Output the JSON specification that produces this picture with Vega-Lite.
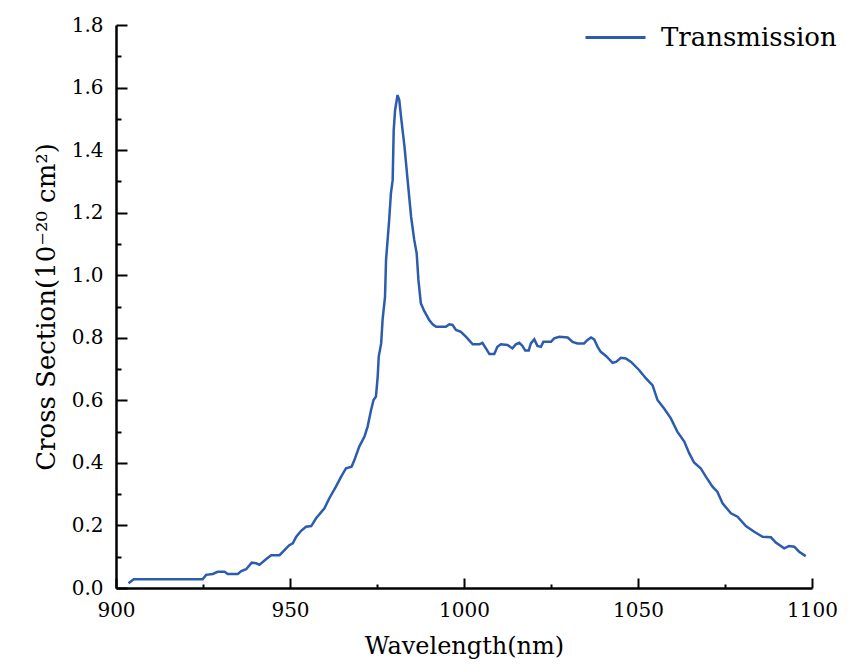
{
  "$schema": "https://vega.github.io/schema/vega-lite/v6.json",
  "width": 696,
  "height": 563,
  "autosize": {"type": "none"},
  "padding": {"left": 116, "top": 25, "right": 46, "bottom": 84},
  "background": "white",
  "config": {
    "view": {"stroke": null},
    "font": "DejaVu Serif",
    "axis": {"grid": false}
  },
  "data": {
    "values": [
      {"w": 903.6, "cs": 0.015, "series": "Transmission"},
      {"w": 905.1, "cs": 0.028, "series": "Transmission"},
      {"w": 924.9, "cs": 0.028, "series": "Transmission"},
      {"w": 925.9, "cs": 0.042, "series": "Transmission"},
      {"w": 927.8, "cs": 0.045, "series": "Transmission"},
      {"w": 929.2, "cs": 0.052, "series": "Transmission"},
      {"w": 931.2, "cs": 0.052, "series": "Transmission"},
      {"w": 932.1, "cs": 0.045, "series": "Transmission"},
      {"w": 935.0, "cs": 0.045, "series": "Transmission"},
      {"w": 936.0, "cs": 0.054, "series": "Transmission"},
      {"w": 937.4, "cs": 0.060, "series": "Transmission"},
      {"w": 939.0, "cs": 0.081, "series": "Transmission"},
      {"w": 940.3, "cs": 0.079, "series": "Transmission"},
      {"w": 941.2, "cs": 0.074, "series": "Transmission"},
      {"w": 943.1, "cs": 0.092, "series": "Transmission"},
      {"w": 944.6, "cs": 0.105, "series": "Transmission"},
      {"w": 947.0, "cs": 0.105, "series": "Transmission"},
      {"w": 949.8, "cs": 0.137, "series": "Transmission"},
      {"w": 950.8, "cs": 0.143, "series": "Transmission"},
      {"w": 951.8, "cs": 0.164, "series": "Transmission"},
      {"w": 953.2, "cs": 0.183, "series": "Transmission"},
      {"w": 954.6, "cs": 0.196, "series": "Transmission"},
      {"w": 956.1, "cs": 0.198, "series": "Transmission"},
      {"w": 957.5, "cs": 0.223, "series": "Transmission"},
      {"w": 959.9, "cs": 0.255, "series": "Transmission"},
      {"w": 961.3, "cs": 0.287, "series": "Transmission"},
      {"w": 963.2, "cs": 0.324, "series": "Transmission"},
      {"w": 964.7, "cs": 0.356, "series": "Transmission"},
      {"w": 966.1, "cs": 0.383, "series": "Transmission"},
      {"w": 967.7, "cs": 0.388, "series": "Transmission"},
      {"w": 968.5, "cs": 0.409, "series": "Transmission"},
      {"w": 969.9, "cs": 0.452, "series": "Transmission"},
      {"w": 971.4, "cs": 0.484, "series": "Transmission"},
      {"w": 972.3, "cs": 0.516, "series": "Transmission"},
      {"w": 973.3, "cs": 0.569, "series": "Transmission"},
      {"w": 974.0, "cs": 0.601, "series": "Transmission"},
      {"w": 974.7, "cs": 0.612, "series": "Transmission"},
      {"w": 975.2, "cs": 0.676, "series": "Transmission"},
      {"w": 975.5, "cs": 0.740, "series": "Transmission"},
      {"w": 976.2, "cs": 0.782, "series": "Transmission"},
      {"w": 976.6, "cs": 0.857, "series": "Transmission"},
      {"w": 977.3, "cs": 0.931, "series": "Transmission"},
      {"w": 977.6, "cs": 1.049, "series": "Transmission"},
      {"w": 978.5, "cs": 1.177, "series": "Transmission"},
      {"w": 979.0, "cs": 1.262, "series": "Transmission"},
      {"w": 979.5, "cs": 1.304, "series": "Transmission"},
      {"w": 979.8, "cs": 1.464, "series": "Transmission"},
      {"w": 980.2, "cs": 1.528, "series": "Transmission"},
      {"w": 980.9, "cs": 1.576, "series": "Transmission"},
      {"w": 981.4, "cs": 1.560, "series": "Transmission"},
      {"w": 981.9, "cs": 1.507, "series": "Transmission"},
      {"w": 982.9, "cs": 1.411, "series": "Transmission"},
      {"w": 983.8, "cs": 1.304, "series": "Transmission"},
      {"w": 984.8, "cs": 1.187, "series": "Transmission"},
      {"w": 985.7, "cs": 1.113, "series": "Transmission"},
      {"w": 986.4, "cs": 1.070, "series": "Transmission"},
      {"w": 986.9, "cs": 0.985, "series": "Transmission"},
      {"w": 987.6, "cs": 0.910, "series": "Transmission"},
      {"w": 988.6, "cs": 0.885, "series": "Transmission"},
      {"w": 990.0, "cs": 0.857, "series": "Transmission"},
      {"w": 991.0, "cs": 0.843, "series": "Transmission"},
      {"w": 992.0, "cs": 0.835, "series": "Transmission"},
      {"w": 994.8, "cs": 0.835, "series": "Transmission"},
      {"w": 995.8, "cs": 0.843, "series": "Transmission"},
      {"w": 996.7, "cs": 0.841, "series": "Transmission"},
      {"w": 997.7, "cs": 0.825, "series": "Transmission"},
      {"w": 999.1, "cs": 0.819, "series": "Transmission"},
      {"w": 1000.6, "cs": 0.803, "series": "Transmission"},
      {"w": 1002.5, "cs": 0.779, "series": "Transmission"},
      {"w": 1004.4, "cs": 0.779, "series": "Transmission"},
      {"w": 1005.3, "cs": 0.784, "series": "Transmission"},
      {"w": 1006.3, "cs": 0.766, "series": "Transmission"},
      {"w": 1007.3, "cs": 0.748, "series": "Transmission"},
      {"w": 1008.7, "cs": 0.748, "series": "Transmission"},
      {"w": 1009.6, "cs": 0.771, "series": "Transmission"},
      {"w": 1010.6, "cs": 0.779, "series": "Transmission"},
      {"w": 1012.5, "cs": 0.777, "series": "Transmission"},
      {"w": 1013.9, "cs": 0.766, "series": "Transmission"},
      {"w": 1014.9, "cs": 0.779, "series": "Transmission"},
      {"w": 1015.9, "cs": 0.784, "series": "Transmission"},
      {"w": 1016.8, "cs": 0.774, "series": "Transmission"},
      {"w": 1017.6, "cs": 0.759, "series": "Transmission"},
      {"w": 1018.6, "cs": 0.759, "series": "Transmission"},
      {"w": 1019.2, "cs": 0.782, "series": "Transmission"},
      {"w": 1020.2, "cs": 0.795, "series": "Transmission"},
      {"w": 1021.1, "cs": 0.774, "series": "Transmission"},
      {"w": 1022.1, "cs": 0.771, "series": "Transmission"},
      {"w": 1022.8, "cs": 0.787, "series": "Transmission"},
      {"w": 1025.0, "cs": 0.787, "series": "Transmission"},
      {"w": 1025.9, "cs": 0.798, "series": "Transmission"},
      {"w": 1027.4, "cs": 0.803, "series": "Transmission"},
      {"w": 1029.8, "cs": 0.801, "series": "Transmission"},
      {"w": 1031.2, "cs": 0.787, "series": "Transmission"},
      {"w": 1032.6, "cs": 0.782, "series": "Transmission"},
      {"w": 1034.5, "cs": 0.782, "series": "Transmission"},
      {"w": 1035.5, "cs": 0.793, "series": "Transmission"},
      {"w": 1036.5, "cs": 0.801, "series": "Transmission"},
      {"w": 1037.4, "cs": 0.795, "series": "Transmission"},
      {"w": 1038.4, "cs": 0.771, "series": "Transmission"},
      {"w": 1039.3, "cs": 0.755, "series": "Transmission"},
      {"w": 1040.8, "cs": 0.742, "series": "Transmission"},
      {"w": 1042.7, "cs": 0.720, "series": "Transmission"},
      {"w": 1043.7, "cs": 0.723, "series": "Transmission"},
      {"w": 1045.1, "cs": 0.736, "series": "Transmission"},
      {"w": 1046.5, "cs": 0.734, "series": "Transmission"},
      {"w": 1048.0, "cs": 0.723, "series": "Transmission"},
      {"w": 1050.3, "cs": 0.697, "series": "Transmission"},
      {"w": 1052.3, "cs": 0.670, "series": "Transmission"},
      {"w": 1054.2, "cs": 0.648, "series": "Transmission"},
      {"w": 1055.6, "cs": 0.601, "series": "Transmission"},
      {"w": 1057.5, "cs": 0.574, "series": "Transmission"},
      {"w": 1059.4, "cs": 0.543, "series": "Transmission"},
      {"w": 1061.3, "cs": 0.500, "series": "Transmission"},
      {"w": 1063.3, "cs": 0.468, "series": "Transmission"},
      {"w": 1064.7, "cs": 0.431, "series": "Transmission"},
      {"w": 1066.1, "cs": 0.401, "series": "Transmission"},
      {"w": 1068.0, "cs": 0.383, "series": "Transmission"},
      {"w": 1069.5, "cs": 0.356, "series": "Transmission"},
      {"w": 1071.4, "cs": 0.324, "series": "Transmission"},
      {"w": 1072.8, "cs": 0.308, "series": "Transmission"},
      {"w": 1074.3, "cs": 0.271, "series": "Transmission"},
      {"w": 1076.7, "cs": 0.239, "series": "Transmission"},
      {"w": 1078.6, "cs": 0.228, "series": "Transmission"},
      {"w": 1081.0, "cs": 0.198, "series": "Transmission"},
      {"w": 1083.4, "cs": 0.180, "series": "Transmission"},
      {"w": 1085.8, "cs": 0.164, "series": "Transmission"},
      {"w": 1088.2, "cs": 0.162, "series": "Transmission"},
      {"w": 1089.6, "cs": 0.145, "series": "Transmission"},
      {"w": 1092.0, "cs": 0.127, "series": "Transmission"},
      {"w": 1093.4, "cs": 0.134, "series": "Transmission"},
      {"w": 1094.9, "cs": 0.132, "series": "Transmission"},
      {"w": 1096.3, "cs": 0.116, "series": "Transmission"},
      {"w": 1098.2, "cs": 0.102, "series": "Transmission"}
    ]
  },
  "resolve": {"axis": {"x": "independent", "y": "independent"}},
  "layer": [
    {
      "mark": {"type": "line", "strokeWidth": 0, "strokeOpacity": 0},
      "encoding": {
        "x": {
          "field": "w", "type": "quantitative",
          "scale": {"domain": [900, 1100], "nice": false, "zero": false},
          "axis": {
            "orient": "bottom", "values": [925, 975, 1025, 1075],
            "labels": false, "domain": false, "title": null,
            "tickSize": -4, "tickWidth": 2, "tickColor": "black"
          }
        },
        "y": {
          "field": "cs", "type": "quantitative",
          "scale": {"domain": [0, 1.8], "nice": false},
          "axis": {
            "orient": "left", "values": [0.1, 0.3, 0.5, 0.7, 0.9, 1.1, 1.3, 1.5, 1.7],
            "labels": false, "domain": false, "title": null,
            "tickSize": -5, "tickWidth": 2, "tickColor": "black"
          }
        }
      }
    },
    {
      "mark": {"type": "line", "strokeWidth": 2.5},
      "encoding": {
        "x": {
          "field": "w", "type": "quantitative",
          "scale": {"domain": [900, 1100], "nice": false, "zero": false},
          "axis": {
            "orient": "bottom", "values": [900, 950, 1000, 1050, 1100],
            "format": "d",
            "title": "Wavelength(nm)", "titleFont": "DejaVu Serif", "titleFontSize": 24,
            "titleFontWeight": "normal", "titleColor": "black", "titlePadding": 14,
            "labelFont": "DejaVu Serif", "labelFontSize": 20, "labelColor": "black",
            "labelPadding": 22, "labelFlush": false,
            "tickSize": -10, "tickWidth": 2, "tickColor": "black",
            "domainColor": "black", "domainWidth": 2.5
          }
        },
        "y": {
          "field": "cs", "type": "quantitative",
          "scale": {"domain": [0, 1.8], "nice": false},
          "axis": {
            "orient": "left", "values": [0, 0.2, 0.4, 0.6, 0.8, 1.0, 1.2, 1.4, 1.6, 1.8],
            "format": ".1f",
            "title": "Cross Section(10⁻²⁰ cm²)", "titleFont": "DejaVu Serif", "titleFontSize": 26,
            "titleFontWeight": "normal", "titleColor": "black", "titlePadding": 12,
            "labelFont": "DejaVu Serif", "labelFontSize": 20, "labelColor": "black",
            "labelPadding": 24, "labelFlush": false,
            "tickSize": -11, "tickWidth": 2, "tickColor": "black",
            "domainColor": "black", "domainWidth": 2.5
          }
        },
        "color": {
          "field": "series", "type": "nominal",
          "scale": {"range": ["#2B5CAE"]},
          "legend": {
            "orient": "none", "legendX": 468, "legendY": -19,
            "title": null, "padding": 0,
            "symbolType": "stroke", "symbolSize": 3600, "symbolStrokeWidth": 3,
            "labelFont": "DejaVu Serif", "labelFontSize": 26, "labelColor": "black",
            "labelOffset": 14, "labelLimit": 400
          }
        }
      }
    }
  ]
}
